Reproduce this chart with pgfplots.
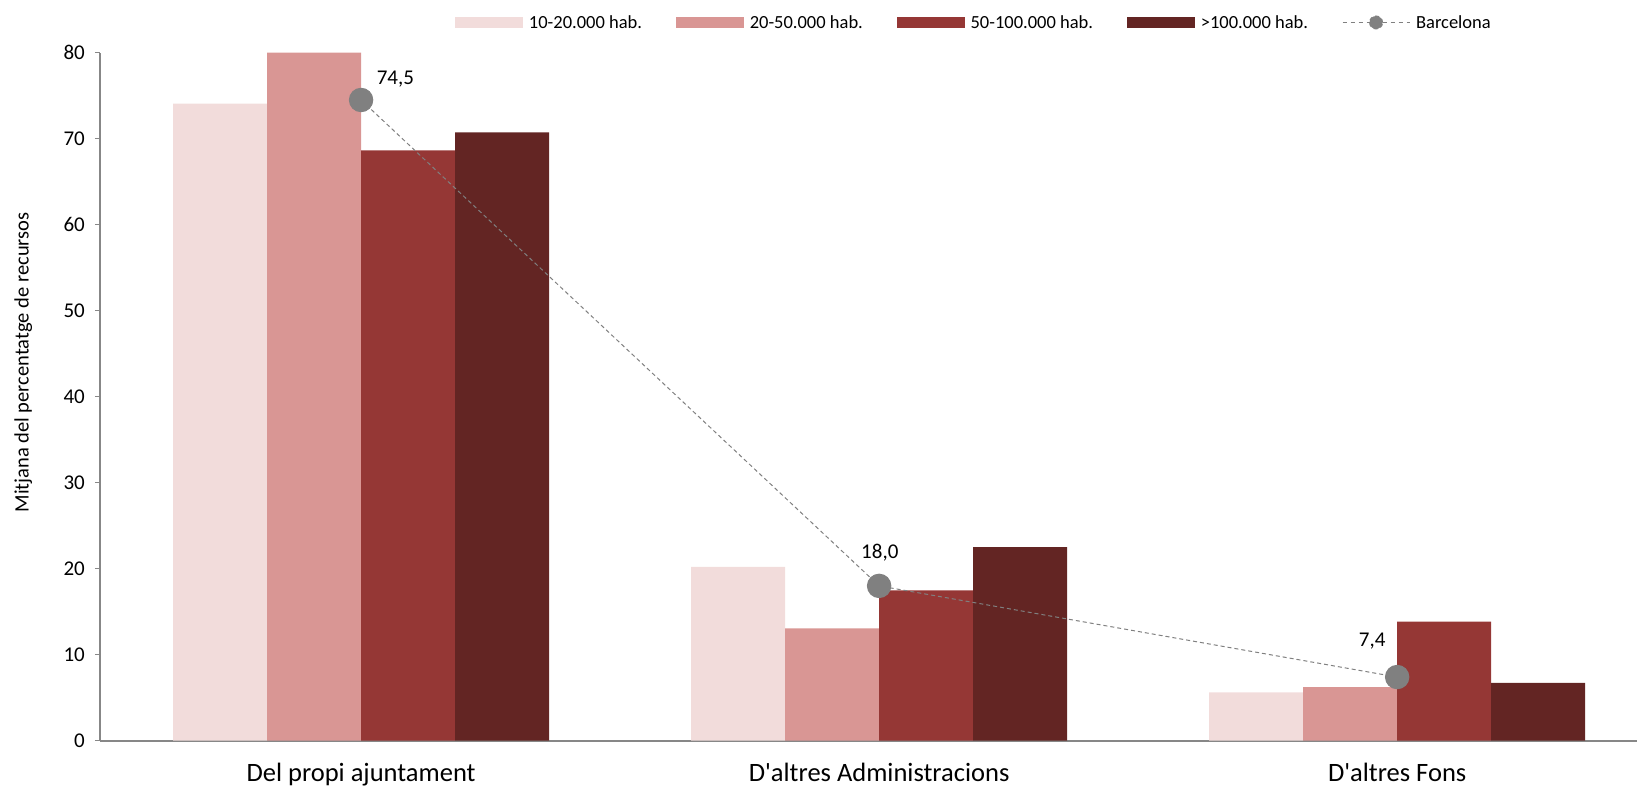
\documentclass[border=0pt]{standalone}
\usepackage{fontspec}
\setmainfont{Carlito}[Ligatures=TeXOff]
\usepackage{pgfplots}
\usepackage{pgfplotstable}
\pgfplotsset{compat=1.18}
\definecolor{cA}{HTML}{F2DCDB}
\definecolor{cB}{HTML}{D99694}
\definecolor{cC}{HTML}{953735}
\definecolor{cD}{HTML}{632523}
\definecolor{bcn}{HTML}{808080}
\definecolor{axgray}{HTML}{878787}

\pgfplotstableread{
x b1 b2 b3 b4
0 74.07 80.0 68.65 70.74
1 20.2 13.07 17.49 22.52
2 5.63 6.24 13.84 6.71
}\bars
\pgfplotstableread{
x y lab dx dy
0 74.5 74,5 34.3 15
1 18.0 18,0 0.7 27.6
2 7.4 7,4 -25 30.3
}\bcndata

\begin{document}
\begin{tikzpicture}
\begin{axis}[
  scale only axis, width=1537pt, height=688pt,
  xmin=-0.504, xmax=2.463, ymin=0, ymax=80,
  clip=false,
  bar width=0.1815,
  axis x line*=bottom, axis y line*=left,
  axis line style={draw=axgray, line width=1.8pt},
  xtick={0,1,2},
  xticklabels={Del propi ajuntament, D'altres Administracions, D'altres Fons},
  x tick style={draw=none},
  ytick={0,10,...,80},
  tick align=outside, major tick length=5pt,
  y tick style={draw=axgray, line width=1pt},
  /pgf/number format/assume math mode=true,
  yticklabel style={font=\fontsize{21}{25}\selectfont, inner sep=0pt, anchor=east, xshift=-10pt},
  xticklabel style={font=\fontsize{26.5}{30}\selectfont, anchor=base, yshift=-35.5pt},
  ylabel={Mitjana del percentatge de recursos},
  ylabel style={font=\fontsize{20.5}{24}\selectfont, at={(rel axis cs:-0.0464,0.5497)}, anchor=base},
  legend columns=5,
  legend style={at={(rel axis cs:0.231,1.0439)}, anchor=west, draw=none, fill=none,
    inner sep=0pt, font=\fontsize{18.5}{22}\selectfont,
    /tikz/every odd column/.append style={column sep=4pt},
    /tikz/every even column/.append style={column sep=32pt}},
  legend cell align=left,
]
\addplot[ybar, bar shift=-0.27225, fill=cA, draw=none,
  legend image code/.code={\fill[cA] (0pt,-5.2pt) rectangle (67.7pt,5.2pt);}]
  table[x=x, y=b1]{\bars};
\addplot[ybar, bar shift=-0.09075, fill=cB, draw=none,
  legend image code/.code={\fill[cB] (0pt,-5.2pt) rectangle (67.7pt,5.2pt);}]
  table[x=x, y=b2]{\bars};
\addplot[ybar, bar shift=0.09075, fill=cC, draw=none,
  legend image code/.code={\fill[cC] (0pt,-5.2pt) rectangle (67.7pt,5.2pt);}]
  table[x=x, y=b3]{\bars};
\addplot[ybar, bar shift=0.27225, fill=cD, draw=none,
  legend image code/.code={\fill[cD] (0pt,-5.2pt) rectangle (67.7pt,5.2pt);}]
  table[x=x, y=b4]{\bars};
\addplot[bcn, line width=1pt, dash pattern=on 4pt off 3pt,
  mark=*, mark size=11.7pt, mark options={solid, fill=bcn, draw=none},
  point meta=explicit symbolic, nodes near coords,
  visualization depends on={\thisrow{dx} \as \dx},
  visualization depends on={\thisrow{dy} \as \dy},
  nodes near coords style={anchor=base, xshift=\dx pt, yshift=\dy pt,
    font=\fontsize{21}{25}\selectfont, text=black, solid},
  legend image code/.code={\draw[bcn, line width=1pt, dash pattern=on 4pt off 4pt] (0pt,0pt) -- (67pt,0pt); \fill[bcn] (33.5pt,0pt) circle (6.5pt);}]
  table[x=x, y=y, meta=lab]{\bcndata};
\legend{10-20.000 hab., 20-50.000 hab., 50-100.000 hab., >100.000 hab., Barcelona}
\end{axis}
\pgfresetboundingbox
\path[use as bounding box] ([xshift=-100pt,yshift=-47.3pt]current axis.south west) rectangle ([yshift=52.7pt]current axis.north east);
\end{tikzpicture}
\end{document}
